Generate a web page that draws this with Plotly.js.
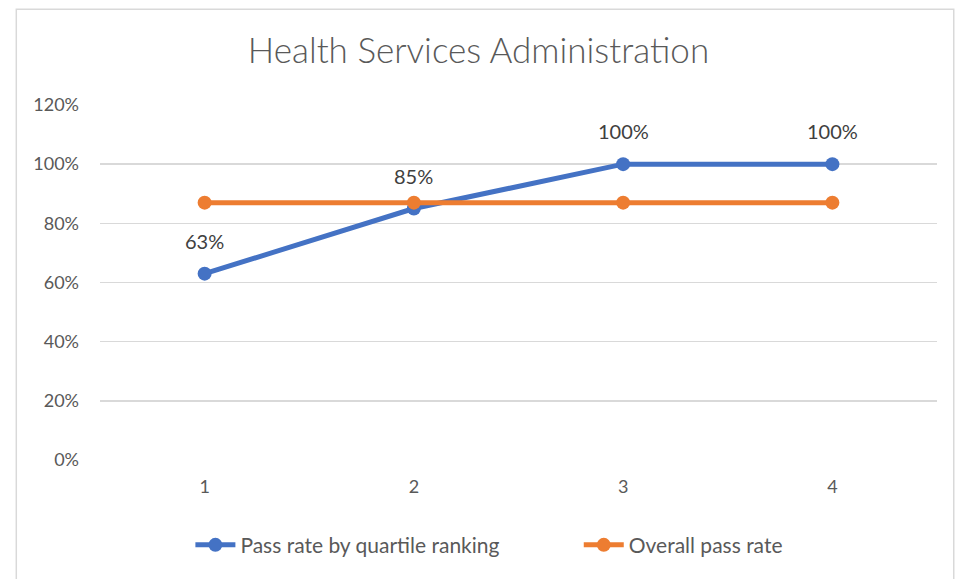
<!DOCTYPE html>
<html>
<head>
<meta charset="utf-8">
<script src="https://cdn.plot.ly/plotly-3.0.1.min.js"></script>
<style>
  html, body { margin: 0; padding: 0; background: #fff; }
  #chart { width: 957px; height: 579px; }
</style>
</head>
<body>
<div id="chart"></div>
<script>
// quartile categories and rates
const quartiles = ["1", "2", "3", "4"];
const quartileRate = [0.63, 0.85, 1.0, 1.0];
const overallRate = [0.87, 0.87, 0.87, 0.87];
const quartileLabels = ["63%", "85%", "100%", "100%"];
const yTicks = [0, 0.2, 0.4, 0.6, 0.8, 1.0, 1.2];
const yTickText = ["0%", "20%", "40%", "60%", "80%", "100%", "120%"];

const textFont = "Lato, 'Open Sans', sans-serif";

const traceQuartile = {
  x: quartiles,
  y: quartileRate,
  name: "Pass rate by quartile ranking",
  mode: "lines+markers",
  line: { color: "#4472c4", width: 5 },
  marker: { color: "#4472c4", size: 14 },
  cliponaxis: false,
  legend: "legend",
};

const traceOverall = {
  x: quartiles,
  y: overallRate,
  name: "Overall pass rate",
  mode: "lines+markers",
  line: { color: "#ed7d31", width: 5 },
  marker: { color: "#ed7d31", size: 14 },
  cliponaxis: false,
  legend: "legend2",
};

// data labels sit well above the blue points (category index as x)
const labelNotes = quartiles.map((q, i) => ({
  x: i,
  y: quartileRate[i],
  text: quartileLabels[i],
  showarrow: false,
  yshift: 33,
  font: { family: textFont, size: 20, color: "#404040" },
}));

const legendBase = {
  orientation: "h",
  xanchor: "left",
  y: -0.24,
  yanchor: "middle",
  font: { size: 21, color: "#595959" },
  itemwidth: 40,
};

const layout = {
  width: 957,
  height: 579,
  paper_bgcolor: "#ffffff",
  plot_bgcolor: "#ffffff",
  font: { family: textFont, color: "#595959", size: 18 },
  margin: { l: 100, r: 20, t: 105, b: 119, autoexpand: false },
  title: {
    text: "Health Services Administration",
    font: { family: textFont, size: 35, color: "#595959", weight: 300 },
    x: 0.5,
    xanchor: "center",
    y: 0.913,
    yanchor: "middle",
  },
  xaxis: {
    type: "category",
    range: [-0.5, 3.5],
    showgrid: false,
    zeroline: false,
    showline: false,
    ticks: "",
    tickfont: { size: 18, color: "#595959" },
    ticklabelstandoff: 14,
    fixedrange: true,
  },
  yaxis: {
    range: [0, 1.2],
    tickvals: yTicks,
    ticktext: yTickText,
    showgrid: true,
    gridcolor: "#d9d9d9",
    gridwidth: 1.5,
    zeroline: false,
    showline: false,
    ticks: "",
    tickfont: { size: 18, color: "#595959" },
    ticklabelstandoff: 20,
    fixedrange: true,
  },
  annotations: labelNotes,
  showlegend: true,
  legend: Object.assign({}, legendBase, { x: 0.108 }),
  legend2: Object.assign({}, legendBase, { x: 0.572 }),
  shapes: [
    {
      type: "rect",
      xref: "paper",
      yref: "paper",
      x0: -0.1,
      x1: 1.02,
      y0: -0.35,
      y1: 1.27,
      line: { color: "#d9d9d9", width: 1.5 },
    },
  ],
};

Plotly.newPlot("chart", [traceQuartile, traceOverall], layout, {
  displayModeBar: false,
  staticPlot: true,
});
</script>
</body>
</html>
